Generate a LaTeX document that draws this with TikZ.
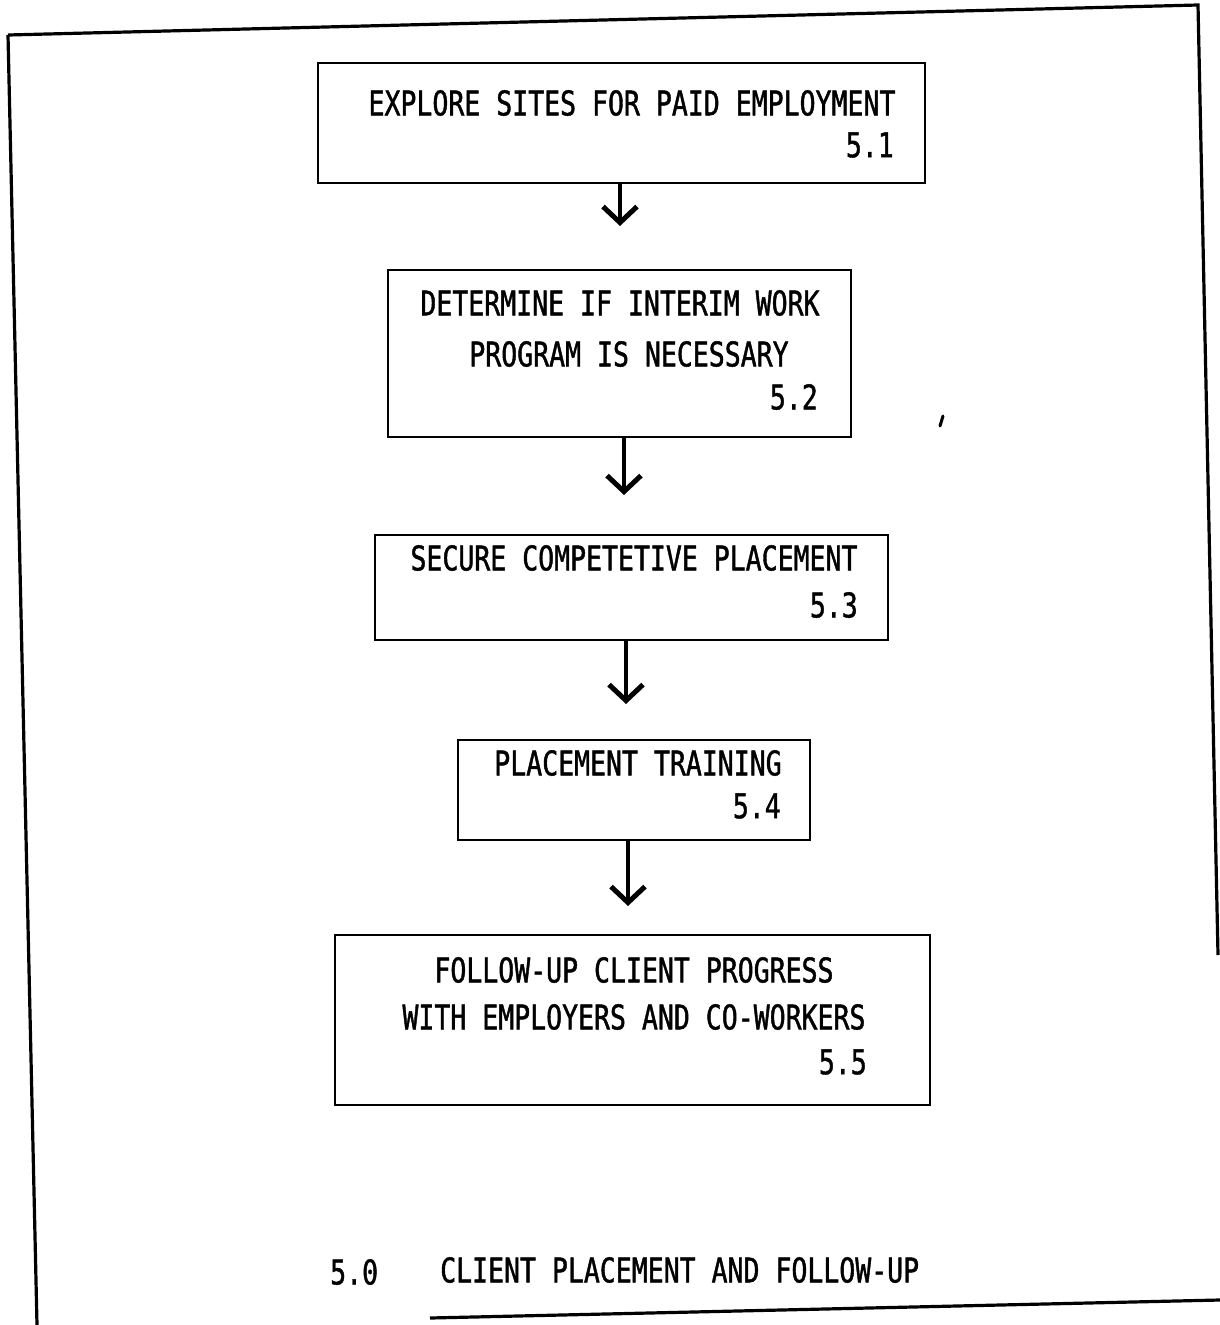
\documentclass[tikz,border=0pt]{standalone}
\usepackage{fontspec}
\newfontfamily\tw[FakeStretch=0.78,FakeBold=1.2]{DejaVu Sans Mono}
\usetikzlibrary{arrows.meta}
\begin{document}
\begin{tikzpicture}[x=1pt,y=-1pt,
  box/.style={draw,line width=2.8pt,rectangle,inner sep=0pt},
  lbl/.style={inner sep=0pt,font=\tw\fontsize{34}{40}\selectfont,anchor=center},
  num/.style={inner sep=0pt,font=\tw\fontsize{34}{40}\selectfont,anchor=east},
  arr/.style={line width=3.2pt,-{Straight Barb[length=16pt,width=34pt,line width=5pt]}},
  frame/.style={line width=3.2pt}]
\useasboundingbox[fill=white] (0,0) rectangle (1220,1325);
% outer frame
\draw[frame] (8,35) -- (1198,5) -- (1218,955);
\draw[frame] (8,35) -- (37,1325);
\draw[frame] (430,1318) -- (1220,1300);
% boxes
\node[box,minimum width=607pt,minimum height=120pt] (b1) at (621.5,123) {};
\node[box,minimum width=463pt,minimum height=167pt] (b2) at (619.5,353.5) {};
\node[box,minimum width=513pt,minimum height=105pt] (b3) at (631.5,587.5) {};
\node[box,minimum width=352pt,minimum height=100pt] (b4) at (634,790) {};
\node[box,minimum width=595pt,minimum height=170pt] (b5) at (632.5,1020) {};
% texts
\node[lbl] (t1a) at (632,103) {EXPLORE SITES FOR PAID EMPLOYMENT};
\node[num] (t1n) at (894,145) {5.1};
\node[lbl] (t2a) at (620,303) {DETERMINE IF INTERIM WORK};
\node[lbl] (t2b) at (629,354) {PROGRAM IS NECESSARY};
\node[num] (t2n) at (818,397) {5.2};
\node[lbl] (t3a) at (634,558) {SECURE COMPETETIVE PLACEMENT};
\node[num] (t3n) at (858,605) {5.3};
\node[lbl] (t4a) at (638,763) {PLACEMENT TRAINING};
\node[num] (t4n) at (781,806) {5.4};
\node[lbl] (t5a) at (634,970) {FOLLOW-UP CLIENT PROGRESS};
\node[lbl] (t5b) at (634,1017) {WITH EMPLOYERS AND CO-WORKERS};
\node[num] (t5n) at (867,1062) {5.5};
% caption
\node[lbl,anchor=west] (c0) at (330,1272) {5.0};
\node[lbl,anchor=west] (c1) at (440,1270) {CLIENT PLACEMENT AND FOLLOW-UP};
% arrows
\coordinate (e1) at (620,226);
\coordinate (e2) at (624,495);
\coordinate (e3) at (626,704);
\coordinate (e4) at (628,906);
\draw[arr] (b1.south -| e1) -- (e1);
\draw[arr] (b2.south -| e2) -- (e2);
\draw[arr] (b3.south -| e3) -- (e3);
\draw[arr] (b4.south -| e4) -- (e4);
% stray mark
\draw[line width=3pt,line cap=round] (943,416) -- (940,426);
\end{tikzpicture}
\end{document}
